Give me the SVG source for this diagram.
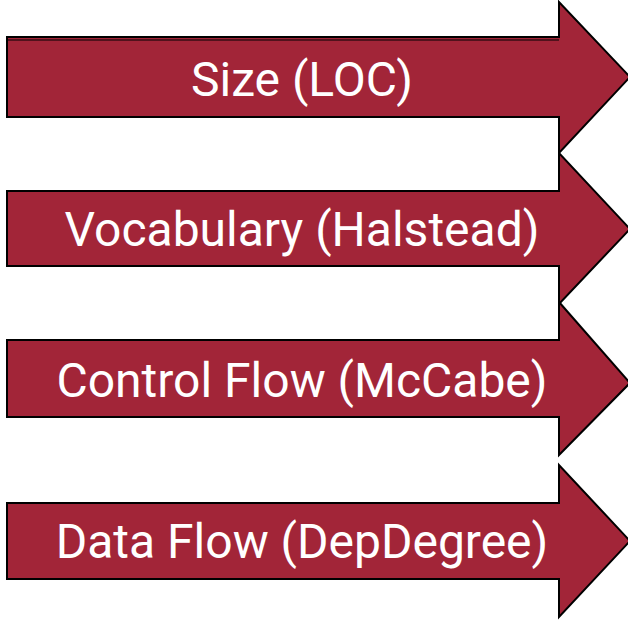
<svg xmlns="http://www.w3.org/2000/svg" width="628" height="620" viewBox="0 0 628 620">
<style>
.arrow{fill:#a22538;stroke:#000;stroke-width:2;stroke-linejoin:miter}
.lbl{fill:#fff;font-family:Roboto,"Liberation Sans",sans-serif;font-size:48px;text-anchor:middle}
</style>
<rect width="628" height="620" fill="#fff"/>
<g id="connectors"></g>
<g id="node-size">
<polygon class="arrow" points="7,37 559,37 559,2 630,77 559,153 559,117 7,117"/>
<line x1="7" y1="40" x2="559" y2="40" stroke="#000" stroke-width="1"/>
<text class="lbl" x="302" y="96">Size (LOC)</text>
</g>
<g id="node-vocabulary">
<polygon class="arrow" points="7,191 559,191 559,153 630,229 559,304 559,266 7,266"/>
<text class="lbl" x="302" y="246">Vocabulary (Halstead)</text>
</g>
<g id="node-control">
<polygon class="arrow" points="7,340 559,340 559,302 630,383 559,455 559,417 7,417"/>
<text class="lbl" x="302" y="397">Control Flow (McCabe)</text>
</g>
<g id="node-data">
<polygon class="arrow" points="7,503 559,503 559,465 630,541 559,617 559,579 7,579"/>
<text class="lbl" x="302" y="558">Data Flow (DepDegree)</text>
</g>
</svg>
